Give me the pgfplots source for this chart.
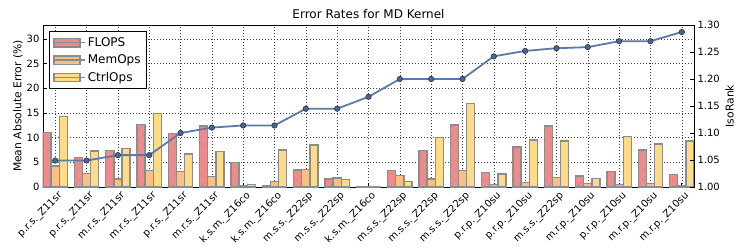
\documentclass[border=0pt]{standalone}
\usepackage{fontspec}
\setmainfont{DejaVu Sans}
\usepackage{pgfplots}
\pgfplotsset{compat=1.18}
\usepackage{pgfplotstable}
\usetikzlibrary{calc,patterns.meta}

\definecolor{cflops}{HTML}{F28B8B}
\definecolor{cmem}{HTML}{FBBF82}
\definecolor{cctrl}{HTML}{FEDB87}
\definecolor{cedge}{HTML}{8C8C8C}
\definecolor{cline}{HTML}{5B7AA6}
\definecolor{cmark}{HTML}{4B668F}
\definecolor{cmarkedge}{HTML}{2F3E57}

\pgfplotstableread{
idx flops mem ctrl iso
0  11.10 4.26 14.25 1.049
1  5.95  2.70 7.30  1.049
2  7.43  1.62 7.84  1.059
3  12.70 3.30 14.86 1.059
4  10.90 3.10 6.65  1.100
5  12.35 2.10 7.20  1.110
6  4.93  0.34 0.55  1.114
7  0.20  1.15 7.50  1.114
8  3.45  3.58 8.50  1.145
9  1.62  1.82 1.55  1.145
10 0.00  0.00 0.00  1.167
11 3.31  2.30 1.08  1.200
12 7.37  1.62 10.00 1.200
13 12.60 3.30 16.90 1.200
14 2.97  0.54 2.63  1.242
15 8.10  0.94 9.50  1.252
16 12.40 1.95 9.30  1.257
17 2.23  0.68 1.70  1.259
18 3.18  0.54 10.20 1.270
19 7.50  0.68 8.70  1.270
20 2.50  0.34 9.30  1.287
}\datatable

\begin{document}
\begin{tikzpicture}
\begin{axis}[
  name=main,
  scale only axis, width=651pt, height=162pt,
  xmin=0, xmax=20.78, ymin=0, ymax=32.84,
  axis line style={black, line width=0.9pt},
  xtick={0.39,1.39,2.39,3.39,4.39,5.39,6.39,7.39,8.39,9.39,10.39,11.39,12.39,13.39,14.39,15.39,16.39,17.39,18.39,19.39,20.39},
  xticklabels={p.r.s.\_Z11sr,p.r.s.\_Z11sr,m.r.s.\_Z11sr,m.r.s.\_Z11sr,p.r.s.\_Z11sr,m.r.s.\_Z11sr,k.s.m.\_Z16co,k.s.m.\_Z16co,m.s.s.\_Z22sp,m.s.s.\_Z22sp,k.s.m.\_Z16co,m.s.s.\_Z22sp,m.s.s.\_Z22sp,m.s.s.\_Z22sp,p.r.p.\_Z10su,p.r.p.\_Z10su,m.s.s.\_Z22sp,m.r.p.\_Z10su,p.r.p.\_Z10su,m.r.p.\_Z10su,m.r.p.\_Z10su},
  xticklabel style={rotate=45, anchor=north east, font=\fontsize{10}{11}\selectfont, inner sep=1pt, xshift=0pt, yshift=-3pt},
  ytick={0,5,10,15,20,25,30},
  yticklabel style={font=\fontsize{10}{12}\selectfont, /pgf/number format/assume math mode=true},
  tick align=inside, major tick length=4pt,
  xtick pos=bottom, ytick pos=left,
  tick style={black, line width=0.6pt},
  grid=major, major grid style={black!75, dash pattern=on 0.8pt off 2.2pt, line width=0.5pt},
  ylabel={Mean Absolute Error (\%)},
  ylabel style={font=\fontsize{10.8}{12}\selectfont, at={(axis description cs:-0.0384,0.5)}, anchor=center},
  title={Error Rates for MD Kernel},
  title style={font=\fontsize{12}{14}\selectfont, at={(axis description cs:0.5,1)}, anchor=south, yshift=-3pt},
  legend style={at={(axis description cs:0.0092,0.963)}, anchor=north west, draw=black, line width=0.9pt,
    font=\fontsize{12}{14}\selectfont, row sep=3pt, inner xsep=4pt, inner ysep=4pt},
  legend cell align=left,
  legend image code/.code={\draw[#1, line width=1.4pt] (0pt,-4.2pt) rectangle (26pt,4.2pt);\path (0pt,0pt) -- (31pt,0pt);},
]
\addplot[ybar, bar width=0.26, bar shift=0pt, fill=cflops, draw=cedge, line width=1.4pt,
  postaction={pattern={Lines[angle=45,distance=7pt,line width=0.4pt]}, pattern color=cflops!80!gray},
  postaction={pattern={Lines[angle=-45,distance=7pt,line width=0.4pt]}, pattern color=cflops!80!gray}]
  table[x expr=\coordindex+0.13, y=flops]{\datatable};
\addlegendentry{FLOPS}
\addplot[ybar, bar width=0.26, bar shift=0pt, fill=cmem, draw=cedge, line width=1.4pt]
  table[x expr=\coordindex+0.39, y=mem]{\datatable};
\addlegendentry{MemOps}
\addplot[ybar, bar width=0.26, bar shift=0pt, fill=cctrl, draw=cedge, line width=1.4pt]
  table[x expr=\coordindex+0.65, y=ctrl]{\datatable};
\addlegendentry{CtrlOps}
\end{axis}
\begin{axis}[
  scale only axis, width=651pt, height=162pt,
  xmin=0, xmax=20.78, ymin=1, ymax=1.30,
  axis y line*=right, axis x line=none,
  axis line style={black, line width=0.9pt},
  ytick={1.00,1.05,1.10,1.15,1.20,1.25,1.30},
  yticklabel style={font=\fontsize{10}{12}\selectfont, /pgf/number format/.cd, fixed, fixed zerofill, precision=2, assume math mode=true},
  tick align=inside, major tick length=4pt,
  tick style={black, line width=0.6pt},
  ylabel={IsoRank},
  ylabel style={font=\fontsize{10.8}{12}\selectfont, at={(axis description cs:1.0545,0.5)}, anchor=center},
]
\addplot[color=cline, line width=1.8pt, mark=*, mark size=2.7pt, mark options={fill=cmark, draw=cmarkedge, line width=0.7pt}]
  table[x expr=\coordindex+0.39, y=iso]{\datatable};
\end{axis}
\pgfresetboundingbox
\path[use as bounding box] ($(main.south west)+(-43pt,-62pt)$) rectangle ($(main.north east)+(53pt,25pt)$);
\end{tikzpicture}
\end{document}
